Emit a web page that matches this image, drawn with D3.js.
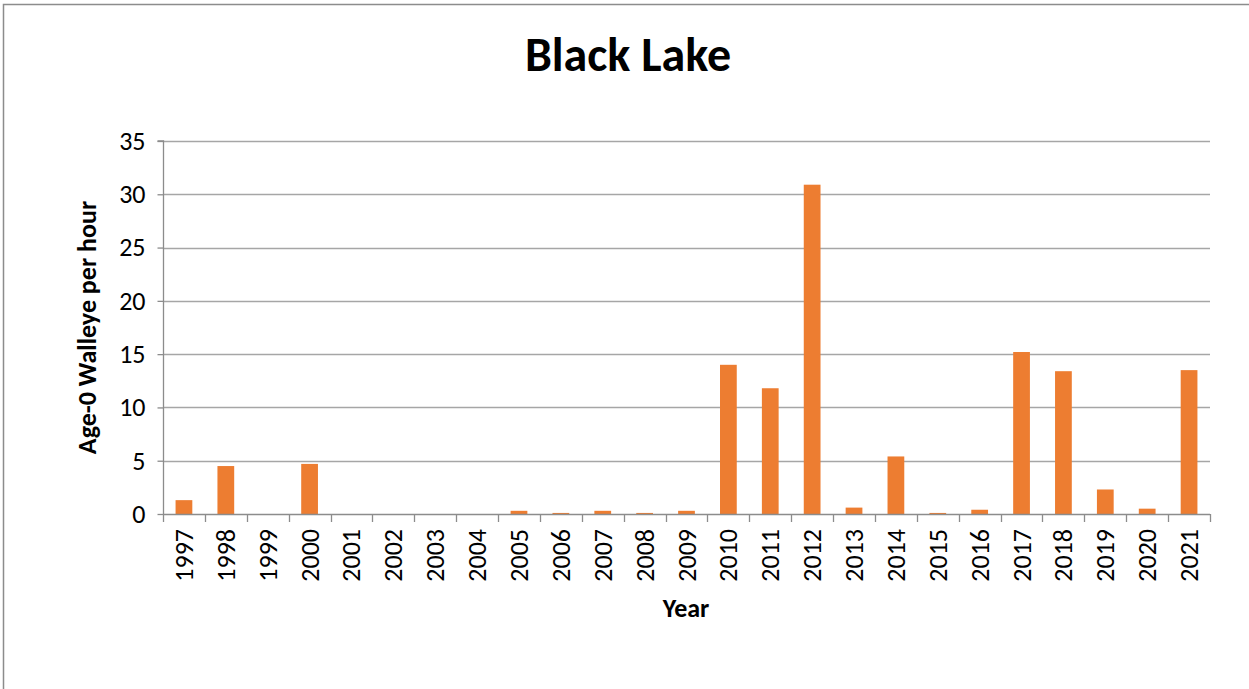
<!DOCTYPE html>
<html>
<head>
<meta charset="utf-8">
<script src="https://cdn.jsdelivr.net/npm/d3@7"></script>
<style>
  body { margin: 0; background: #fff; }
  svg text { font-family: Carlito, "Open Sans", "Liberation Sans", sans-serif; fill: #000; }
</style>
</head>
<body>
<div id="chart"></div>
<script>
// Age-0 walleye catch rate per year
const years = ["1997", "1998", "1999", "2000", "2001", "2002", "2003", "2004", "2005", "2006",
  "2007", "2008", "2009", "2010", "2011", "2012", "2013", "2014", "2015", "2016",
  "2017", "2018", "2019", "2020", "2021"];
const walleyePerHour = [1.3, 4.5, 0, 4.7, 0, 0, 0, 0, 0.3, 0.1,
  0.3, 0.1, 0.3, 14.0, 11.8, 30.9, 0.6, 5.4, 0.1, 0.4,
  15.2, 13.4, 2.3, 0.5, 13.5];
const yTicks = [0, 5, 10, 15, 20, 25, 30, 35];

const width = 1249, height = 689;
const margin = {left: 163, right: 39, top: 141, bottom: 175};

const svg = d3.select("#chart")
  .append("svg")
  .attr("width", width)
  .attr("height", height);

// chart border
svg.append("rect")
  .attr("x", 3.5)
  .attr("y", 4.5)
  .attr("width", width + 10)
  .attr("height", height + 10)
  .attr("fill", "none")
  .attr("stroke", "#8c8c8c")
  .attr("stroke-width", 1.5);

const x = d3.scaleBand()
  .domain(years)
  .range([margin.left, width - margin.right])
  .paddingInner(0.6)
  .paddingOuter(0.3);

const y = d3.scaleLinear()
  .domain([0, 35])
  .range([height - margin.bottom, margin.top]);

// gridlines
svg.append("g")
  .selectAll("line")
  .data(yTicks.slice(1))
  .join("line")
  .attr("x1", margin.left)
  .attr("x2", width - margin.right)
  .attr("y1", d => Math.round(y(d)) + 0.5)
  .attr("y2", d => Math.round(y(d)) + 0.5)
  .attr("stroke", "#a6a6a6")
  .attr("stroke-width", 1.3);

// bars
svg.append("g")
  .selectAll("rect")
  .data(walleyePerHour)
  .join("rect")
  .attr("x", (d, i) => x(years[i]))
  .attr("y", d => y(d))
  .attr("width", x.bandwidth())
  .attr("height", d => y(0) - y(d))
  .attr("fill", "#ed7d31");

// y axis
const yAxis = svg.append("g")
  .attr("transform", `translate(${margin.left + 0.5},0)`)
  .call(d3.axisLeft(y).tickValues(yTicks).tickSize(6).tickPadding(12));
yAxis.selectAll("path, line").attr("stroke", "#8c8c8c").attr("stroke-width", 1.3);
yAxis.selectAll("text").attr("font-size", "26px");
yAxis.select(".domain").attr("d", `M-6,${y(35)}H0V${y(0)}`);

// x axis: ticks between categories
const bounds = d3.range(years.length + 1).map(i => margin.left + i * (width - margin.left - margin.right) / years.length);
svg.append("line")
  .attr("x1", margin.left)
  .attr("x2", width - margin.right)
  .attr("y1", y(0) + 0.5)
  .attr("y2", y(0) + 0.5)
  .attr("stroke", "#8c8c8c")
  .attr("stroke-width", 1.3);
svg.append("g")
  .selectAll("line")
  .data(bounds)
  .join("line")
  .attr("x1", d => Math.round(d) + 0.5)
  .attr("x2", d => Math.round(d) + 0.5)
  .attr("y1", y(0))
  .attr("y2", y(0) + 8)
  .attr("stroke", "#8c8c8c")
  .attr("stroke-width", 1.3);

svg.append("g")
  .selectAll("text")
  .data(years)
  .join("text")
  .attr("transform", d => `translate(${x(d) + x.bandwidth() / 2 + 9},${y(0) + 15}) rotate(-90)`)
  .attr("text-anchor", "end")
  .attr("font-size", "26px")
  .text(d => d);

// title and axis labels
svg.append("text")
  .attr("x", 628)
  .attr("y", 71)
  .attr("text-anchor", "middle")
  .attr("font-size", "48px")
  .attr("font-weight", "bold")
  .text("Black Lake");

svg.append("text")
  .attr("transform", `translate(96,${(y(0) + y(35)) / 2}) rotate(-90)`)
  .attr("text-anchor", "middle")
  .attr("font-size", "26px")
  .attr("font-weight", "bold")
  .text("Age-0 Walleye per hour");

svg.append("text")
  .attr("x", 686)
  .attr("y", 617)
  .attr("text-anchor", "middle")
  .attr("font-size", "26px")
  .attr("font-weight", "bold")
  .text("Year");
</script>
</body>
</html>
